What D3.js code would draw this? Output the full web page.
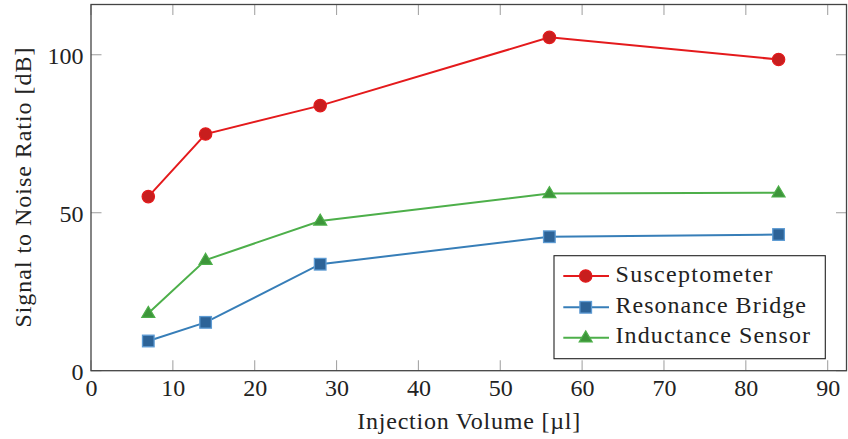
<!DOCTYPE html>
<html><head><meta charset="utf-8">
<script src="https://cdn.jsdelivr.net/npm/d3@7"></script>
</head><body style="margin:0">
<svg id="chart" width="848" height="439" style="font-family:'Liberation Serif'"></svg>
<script>
const xValues = [7, 14, 28, 56, 84];
const susceptometer = [55.1, 74.9, 83.9, 105.5, 98.5];
const resonanceBridge = [9.4, 15.3, 33.7, 42.4, 43.1];
const inductanceSensor = [18.2, 35.0, 47.4, 56.1, 56.3];
const seriesNames = ["Susceptometer", "Resonance Bridge", "Inductance Sensor"];
const xTicks = [0,10,20,30,40,50,60,70,80,90];
const yTicks = [0,50,100];
const xLabel = "Injection Volume [µl]";
const yLabel = "Signal to Noise Ratio [dB]";

const series = [
  {name: seriesNames[0], values: susceptometer, color: "#e41a1c", fill: "#c81e1e", stroke: "#e41a1c", mark: "circle", w: 157},
  {name: seriesNames[1], values: resonanceBridge, color: "#377eb8", fill: "#2d6397", stroke: "#5d9bd3", mark: "square", w: 190.5},
  {name: seriesNames[2], values: inductanceSensor, color: "#4daf4a", fill: "#3d953a", stroke: "#4daf4a", mark: "triangle", w: 194.5}
];

const FONT = "'Liberation Serif'";
const svg = d3.select("#chart");
const L = 91, R = 846.5, T = 4.5, B = 370.7;
const x = d3.scaleLinear().domain([0, 92.3]).range([L, R]);
const y = d3.scaleLinear().domain([0, 115.9]).range([B, T]);

const fs = 24;
const tickLen = 10.5;
const tg = svg.append("g").attr("stroke", "#a6a6a6").attr("stroke-width", 1.1);
xTicks.forEach(v => {
  tg.append("line").attr("x1", x(v)).attr("x2", x(v)).attr("y1", B).attr("y2", B - tickLen);
  tg.append("line").attr("x1", x(v)).attr("x2", x(v)).attr("y1", T).attr("y2", T + tickLen);
});
yTicks.forEach(v => {
  tg.append("line").attr("y1", y(v)).attr("y2", y(v)).attr("x1", L).attr("x2", L + tickLen);
  tg.append("line").attr("y1", y(v)).attr("y2", y(v)).attr("x1", R).attr("x2", R - tickLen);
});

function addText(parent, px, py, str, opts) {
  const t = parent.append("text").attr("x", px).attr("y", py)
    .attr("font-family", FONT).style("font-family", "'Liberation Serif'")
    .attr("font-size", fs).attr("fill", "#222");
  if (opts && opts.anchor) t.attr("text-anchor", opts.anchor);
  if (opts && opts.len) t.attr("textLength", opts.len).attr("lengthAdjust", "spacing");
  if (opts && opts.transform) t.attr("transform", opts.transform);
  t.text(str);
  return t;
}

xTicks.forEach(d => addText(svg, x(d) + 0.5, 396, String(d), {anchor: "middle"}));
yTicks.forEach(d => addText(svg, 83.5, y(d) + 8.8, String(d), {anchor: "end"}));

addText(svg, (L + R) / 2, 428.5, xLabel, {anchor: "middle", len: 223});
addText(svg, 0, 0, yLabel, {anchor: "middle", len: 280, transform: `translate(30.5,${(T + B) / 2}) rotate(-90)`});

const line = d3.line().x((d, i) => x(xValues[i])).y(d => y(d));
function drawMark(g, type, cx, cy, s) {
  if (type === "circle") {
    g.append("circle").attr("cx", cx).attr("cy", cy).attr("r", 6.2)
      .attr("fill", s.fill).attr("stroke", s.stroke).attr("stroke-width", 1.2);
  } else if (type === "square") {
    g.append("rect").attr("x", cx - 5.8).attr("y", cy - 5.8).attr("width", 11.6).attr("height", 11.6)
      .attr("fill", s.fill).attr("stroke", s.stroke).attr("stroke-width", 1.3);
  } else {
    const h = 11, w = 13;
    g.append("path").attr("d", `M${cx},${cy - h * 0.62}L${cx + w / 2},${cy + h * 0.38}L${cx - w / 2},${cy + h * 0.38}Z`)
      .attr("fill", s.fill).attr("stroke", s.stroke).attr("stroke-width", 1.2);
  }
}
series.forEach(s => {
  const g = svg.append("g");
  g.append("path").datum(s.values).attr("d", line).attr("fill", "none")
    .attr("stroke", s.color).attr("stroke-width", 2);
  s.values.forEach((v, i) => drawMark(g, s.mark, x(xValues[i]), y(v), s));
});

svg.append("rect").attr("x", L).attr("y", T).attr("width", R - L).attr("height", B - T)
  .attr("fill", "none").attr("stroke", "#444").attr("stroke-width", 1.3);

const lg = svg.append("g");
lg.append("rect").attr("x", 554).attr("y", 255.7).attr("width", 271.3).attr("height", 103)
  .attr("fill", "#fff").attr("stroke", "#222").attr("stroke-width", 1.1);
const rows = [276, 307.3, 337.7];
series.forEach((s, i) => {
  const cy = rows[i];
  lg.append("line").attr("x1", 563.3).attr("x2", 609).attr("y1", cy).attr("y2", cy)
    .attr("stroke", s.color).attr("stroke-width", 2);
  drawMark(lg, s.mark, 585.7, cy, s);
  addText(lg, 615.5, cy + 5.5, s.name, {len: s.w});
});
</script>
</body></html>
